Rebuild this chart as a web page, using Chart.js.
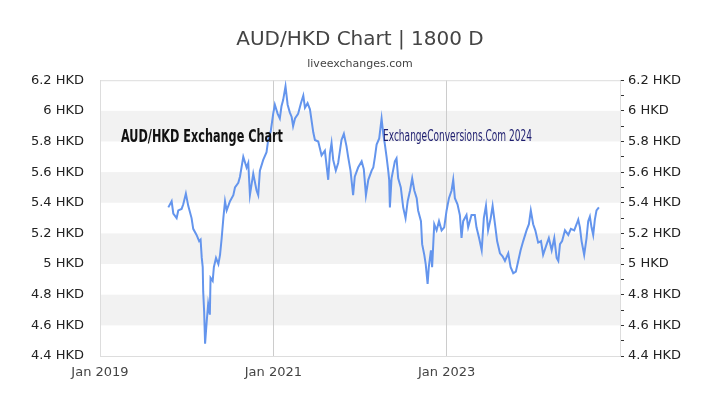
<!DOCTYPE html>
<html>
<head>
<meta charset="utf-8">
<script src="https://cdn.jsdelivr.net/npm/chart.js@4/dist/chart.umd.min.js"></script>
<style>
  body { margin: 0; background: #fff; }
  #wrap { width: 720px; height: 405px; }
</style>
</head>
<body>
<div id="wrap"><canvas id="rateChart"></canvas></div>
<script>
// AUD/HKD
const dates = [
  "2019-10-16","2019-10-30","2019-11-06","2019-11-20","2019-11-27","2019-12-11","2019-12-18","2019-12-29",
  "2020-01-08","2020-01-22","2020-01-29","2020-02-12","2020-02-23","2020-02-29","2020-03-05","2020-03-09",
  "2020-03-11","2020-03-15","2020-03-19","2020-03-26","2020-04-01","2020-04-08","2020-04-11","2020-04-20",
  "2020-04-25","2020-05-04","2020-05-14","2020-05-21","2020-05-28","2020-06-04","2020-06-11","2020-06-18",
  "2020-07-02","2020-07-16","2020-07-23","2020-08-06","2020-08-13","2020-08-27","2020-09-10","2020-09-17",
  "2020-09-24","2020-10-08","2020-10-22","2020-10-29","2020-11-05","2020-11-19","2020-12-03","2020-12-10",
  "2020-12-21","2020-12-31","2021-01-07","2021-01-19","2021-01-28","2021-02-04","2021-02-11","2021-02-21",
  "2021-03-02","2021-03-11","2021-03-19","2021-03-25","2021-04-02","2021-04-15","2021-04-27","2021-05-07",
  "2021-05-14","2021-05-25","2021-06-04","2021-06-18","2021-06-25","2021-07-09","2021-07-23","2021-08-06",
  "2021-08-20","2021-08-27","2021-09-03","2021-09-10","2021-09-21","2021-10-01","2021-10-15","2021-10-25",
  "2021-11-05","2021-11-12","2021-11-22","2021-12-03","2021-12-10","2021-12-24","2022-01-08","2022-01-17",
  "2022-01-26","2022-02-05","2022-02-19","2022-02-26","2022-03-05","2022-03-12","2022-03-23","2022-04-02",
  "2022-04-09","2022-04-16","2022-04-23","2022-04-30","2022-05-04","2022-05-07","2022-05-14","2022-05-28",
  "2022-06-04","2022-06-11","2022-06-22","2022-07-02","2022-07-12","2022-07-21","2022-07-31","2022-08-09",
  "2022-08-18","2022-08-28","2022-09-03","2022-09-15","2022-09-20","2022-09-29","2022-10-05","2022-10-13",
  "2022-10-18","2022-10-27","2022-11-01","2022-11-10","2022-11-20","2022-11-30","2022-12-11","2022-12-22",
  "2023-01-01","2023-01-11","2023-01-22","2023-01-29","2023-02-05","2023-02-16","2023-02-26","2023-03-05",
  "2023-03-12","2023-03-26","2023-04-02","2023-04-16","2023-04-30","2023-05-07","2023-05-18","2023-05-29",
  "2023-06-07","2023-06-16","2023-06-25","2023-07-06","2023-07-14","2023-07-24","2023-08-02","2023-08-14",
  "2023-08-25","2023-09-04","2023-09-18","2023-09-28","2023-10-09","2023-10-20","2023-10-30","2023-11-09",
  "2023-11-20","2023-12-04","2023-12-14","2023-12-22","2024-01-01","2024-01-10","2024-01-22","2024-02-03",
  "2024-02-12","2024-02-27","2024-03-07","2024-03-19","2024-03-30","2024-04-09","2024-04-16","2024-04-23",
  "2024-05-02","2024-05-14","2024-05-28","2024-06-08","2024-06-22","2024-07-02","2024-07-09","2024-07-16",
  "2024-07-23","2024-08-03","2024-08-13","2024-08-20","2024-08-27","2024-09-03","2024-09-10","2024-09-17",
  "2024-09-24","2024-10-04"
];
const rates = [
  5.37,5.41,5.33,5.30,5.35,5.36,5.39,5.46,
  5.38,5.30,5.23,5.19,5.15,5.16,5.04,4.98,
  4.82,4.69,4.48,4.63,4.74,4.67,4.91,4.89,
  4.98,5.04,5.00,5.06,5.17,5.30,5.41,5.35,
  5.41,5.45,5.50,5.53,5.57,5.70,5.63,5.66,
  5.45,5.59,5.48,5.45,5.61,5.68,5.73,5.81,
  5.87,5.98,6.04,5.98,5.95,6.03,6.07,6.16,
  6.04,5.99,5.96,5.90,5.95,5.98,6.05,6.10,
  6.02,6.05,6.01,5.86,5.81,5.80,5.71,5.74,
  5.55,5.72,5.79,5.68,5.61,5.66,5.81,5.85,
  5.77,5.70,5.61,5.45,5.57,5.63,5.67,5.62,
  5.45,5.55,5.61,5.63,5.70,5.78,5.82,5.95,
  5.85,5.78,5.70,5.61,5.55,5.37,5.56,5.67,
  5.69,5.56,5.50,5.37,5.30,5.41,5.48,5.56,
  5.48,5.43,5.35,5.28,5.13,5.06,5.00,4.87,
  4.98,5.09,4.98,5.26,5.22,5.28,5.22,5.24,
  5.35,5.43,5.48,5.55,5.43,5.39,5.32,5.17,
  5.28,5.32,5.24,5.32,5.32,5.24,5.17,5.09,
  5.30,5.38,5.22,5.30,5.38,5.26,5.15,5.07,
  5.05,5.02,5.07,4.98,4.94,4.95,5.02,5.09,
  5.15,5.22,5.26,5.35,5.26,5.22,5.14,5.15,
  5.06,5.13,5.17,5.09,5.17,5.04,5.02,5.13,
  5.15,5.22,5.19,5.23,5.22,5.26,5.29,5.24,
  5.15,5.06,5.17,5.28,5.31,5.24,5.19,5.29,
  5.35,5.37
];
const yearTicks = [2019, 2021, 2023];
const yMin = 4.4, yMax = 6.2;

const font = "DejaVu Sans";

// grey bands between every other y tick + frame round the plot
const bandsPlugin = {
  id: "bands",
  beforeDraw(chart) {
    const { ctx, chartArea: a, scales } = chart;
    ctx.save();
    ctx.fillStyle = "#fff";
    ctx.fillRect(0, 0, chart.width, chart.height);
    const ticks = scales.y.ticks;
    ctx.fillStyle = "#f2f2f2";
    for (let i = 1; i < ticks.length - 1; i += 2) {
      const y1 = scales.y.getPixelForValue(ticks[i].value);
      const y2 = scales.y.getPixelForValue(ticks[i + 1].value);
      ctx.fillRect(a.left, y2, a.right - a.left, y1 - y2);
    }
    ctx.restore();
  },
  beforeDatasetsDraw(chart) {
    const { ctx, chartArea: a } = chart;
    ctx.save();
    ctx.strokeStyle = "#ddd";
    ctx.lineWidth = 1;
    ctx.strokeRect(a.left + 0.5, a.top + 0.5, a.right - a.left, a.bottom - a.top);
    ctx.restore();
  }
};

// the two watermark captions inside the plot
function fitText(ctx, text, x, y, width, fnt, color) {
  ctx.save();
  ctx.font = fnt;
  ctx.fillStyle = color;
  ctx.textBaseline = "alphabetic";
  const w = ctx.measureText(text).width;
  ctx.translate(x, y);
  ctx.scale(width / w, 1);
  ctx.fillText(text, 0, 0);
  ctx.restore();
}
const captionPlugin = {
  id: "captions",
  afterDatasetsDraw(chart) {
    const ctx = chart.ctx;
    fitText(ctx, "AUD/HKD Exchange Chart", 121, 142, 162, "bold 18px 'DejaVu Sans Condensed'", "#111");
    fitText(ctx, "ExchangeConversions.Com 2024", 383, 141, 149, "15px 'DejaVu Sans Condensed'", "#1c1c6e");
  }
};

const hkd = v => {
  const r = Math.round(v * 10);
  return r % 2 === 0 ? parseFloat((r / 10).toFixed(1)) + " HKD" : "";
};

new Chart(document.getElementById("rateChart"), {
  type: "line",
  data: {
    datasets: [{
      data: dates.map((d, i) => ({ x: Date.parse(d), y: rates[i] })),
      borderColor: "#6495ed",
      borderWidth: 2,
      pointRadius: 0,
      tension: 0,
      fill: false
    }]
  },
  plugins: [bandsPlugin, captionPlugin],
  options: {
    responsive: true,
    maintainAspectRatio: false,
    animation: false,
    plugins: {
      legend: { display: false },
      tooltip: { enabled: false },
      title: {
        display: true,
        text: "AUD/HKD Chart | 1800 D",
        color: "#444",
        font: { family: font, size: 20, weight: "normal" },
        padding: { top: 28, bottom: 0 }
      },
      subtitle: {
        display: true,
        text: "liveexchanges.com",
        color: "#444",
        font: { family: font, size: 11, weight: "normal" },
        padding: { top: 6, bottom: 9 }
      }
    },
    scales: {
      x: {
        type: "linear",
        min: Date.UTC(2019, 0, 1),
        max: Date.UTC(2025, 0, 1),
        afterBuildTicks: s => { s.ticks = yearTicks.map(y => ({ value: Date.UTC(y, 0, 1) })); },
        afterFit: s => { s.height = 49; },
        grid: { color: "#ccc", drawTicks: false },
        border: { display: false },
        ticks: {
          padding: 9,
          color: "#444",
          font: { family: font, size: 13 },
          maxRotation: 0,
          callback: v => "Jan " + new Date(v).getUTCFullYear()
        }
      },
      y: {
        position: "left",
        min: yMin,
        max: yMax,
        afterFit: s => { s.width = 100; },
        grid: { display: false },
        border: { display: false },
        ticks: { stepSize: 0.2, padding: 8, color: "#222", font: { family: font, size: 13 }, callback: hkd }
      },
      y2: {
        position: "right",
        display: true,
        min: yMin,
        max: yMax,
        afterFit: s => { s.width = 100; },
        grid: { drawOnChartArea: false, drawTicks: true, tickLength: 4, color: "#333" },
        border: { display: false },
        ticks: { stepSize: 0.1, padding: 4, color: "#222", font: { family: font, size: 13 }, autoSkip: false, callback: hkd }
      }
    }
  }
});
</script>
</body>
</html>
